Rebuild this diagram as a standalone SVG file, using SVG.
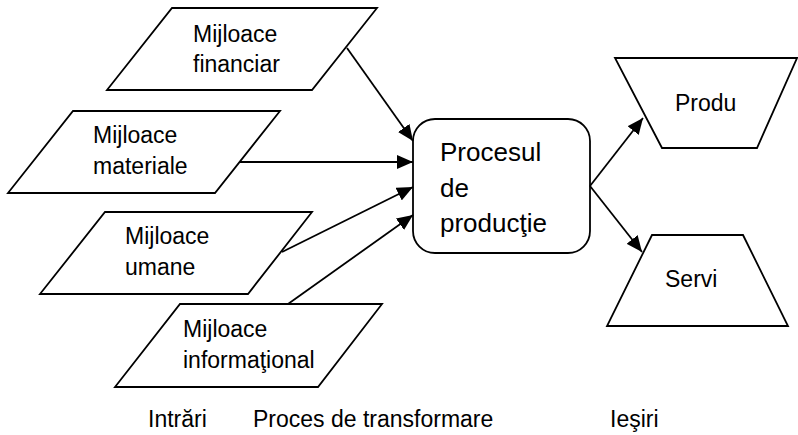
<svg xmlns="http://www.w3.org/2000/svg" width="798" height="435" viewBox="0 0 798 435">
  <style>
    .shape { fill: #ffffff; stroke: #000000; stroke-width: 1.8; stroke-linejoin: miter; }
    .lbl { font-family: "Liberation Sans", Arial, sans-serif; font-size: 23px; fill: #000000; }
    .big { font-size: 26px; }
    .conn { stroke: #000000; stroke-width: 1.8; fill: none; marker-end: url(#arrow); }
  </style>
  <defs>
    <marker id="arrow" markerUnits="userSpaceOnUse" markerWidth="18" markerHeight="14" refX="16" refY="7" orient="auto">
      <path d="M0,0 L16,7 L0,14 Z" fill="#000000"/>
    </marker>
  </defs>
  <rect width="798" height="435" fill="#ffffff"/>

  <!-- inputs -->
  <g id="financiar">
    <polygon class="shape" points="172,8 377,8 312,90 107,90"/>
    <text class="lbl" x="193" y="42">Mijloace</text>
    <text class="lbl" x="193" y="72">financiar</text>
  </g>
  <g id="materiale">
    <polygon class="shape" points="73,111 280,111 215,193 8,193"/>
    <text class="lbl" x="93" y="143">Mijloace</text>
    <text class="lbl" x="93" y="174">materiale</text>
  </g>
  <g id="umane">
    <polygon class="shape" points="105,212 312,212 248,294 40,294"/>
    <text class="lbl" x="125" y="244">Mijloace</text>
    <text class="lbl" x="125" y="275">umane</text>
  </g>
  <g id="informational">
    <polygon class="shape" points="180,304 382,304 318,387 115,387"/>
    <text class="lbl" x="183" y="337">Mijloace</text>
    <text class="lbl" x="183" y="368">informaţional</text>
  </g>

  <!-- process -->
  <g id="proces">
    <rect class="shape" x="413" y="119" width="177" height="134" rx="22" ry="22"/>
    <text class="lbl big" x="440" y="161">Procesul</text>
    <text class="lbl big" x="440" y="197">de</text>
    <text class="lbl big" x="440" y="232">producţie</text>
  </g>

  <!-- outputs -->
  <g id="produse">
    <polygon class="shape" points="615,58 797,58 757,148 662,148"/>
    <text class="lbl" x="675" y="111">Produ</text>
  </g>
  <g id="servicii">
    <polygon class="shape" points="652,235 743,235 788,326 607,326"/>
    <text class="lbl" x="665" y="287">Servi</text>
  </g>

  <!-- connectors -->
  <g id="connectors">
    <line class="conn" x1="347" y1="48" x2="413" y2="141"/>
    <line class="conn" x1="240" y1="162" x2="413" y2="162"/>
    <line class="conn" x1="282" y1="252" x2="413" y2="187"/>
    <line class="conn" x1="288" y1="304" x2="413" y2="215"/>
    <line class="conn" x1="590" y1="186" x2="643" y2="118"/>
    <line class="conn" x1="590" y1="186" x2="642" y2="252"/>
  </g>

  <!-- column captions -->
  <g id="captions">
    <text class="lbl" x="148" y="427">Intrări</text>
    <text class="lbl" x="253" y="427">Proces de transformare</text>
    <text class="lbl" x="610" y="427">Ieşiri</text>
  </g>
</svg>
